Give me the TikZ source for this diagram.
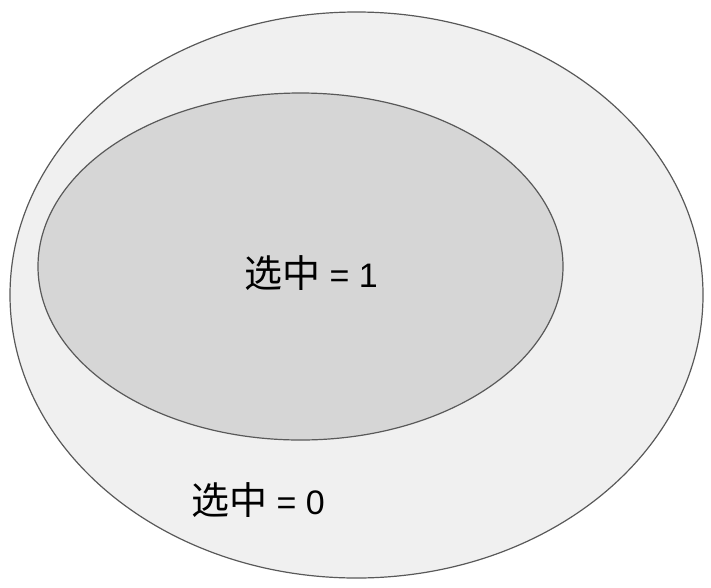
\documentclass[tikz,border=0pt]{standalone}
\usepackage{fontspec}
\setmainfont{Liberation Sans}
\newfontfamily\cjk{Noto Sans CJK SC}
\definecolor{edge}{HTML}{595959}
\definecolor{outerfill}{HTML}{F0F0F0}
\definecolor{innerfill}{HTML}{D6D6D6}

\begin{document}
\begin{tikzpicture}[
    x=1pt, y=-1pt,
    set/.style={draw=edge, line width=1.2pt},
    label/.style={font=\fontsize{34}{38}\selectfont, text=black, inner sep=0pt},
]
\useasboundingbox (0,0) rectangle (711,587);

% Outer set (selected = 0)
\draw[set, fill=outerfill] (356.5,295) ellipse (346.5 and 283);

% Inner set (selected = 1)
\draw[set, fill=innerfill] (300.5,266.5) ellipse (262.5 and 173.5);

% Labels
\node[label] (one) at (311,273) {{\cjk\fontsize{38}{38}\selectfont 选中} = 1};
\node[label] (zero) at (258,500) {{\cjk\fontsize{38}{38}\selectfont 选中} = 0};

\end{tikzpicture}
\end{document}
